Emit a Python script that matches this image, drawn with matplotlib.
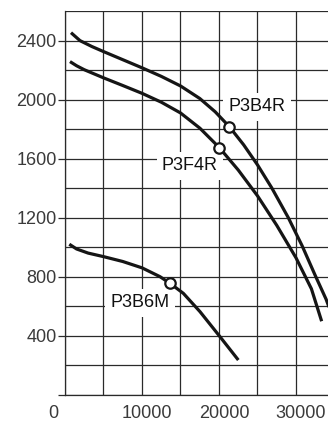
import numpy as np
import matplotlib
matplotlib.use("Agg")
import matplotlib.pyplot as plt
from matplotlib.transforms import ScaledTranslation

plt.rcParams['font.family'] = ['Liberation Sans', 'DejaVu Sans']

# ---- data ----
p3b4r_x = [780, 1950, 3500, 5000, 7500, 10000, 12500, 15000, 17500, 19500, 21340,
           23200, 25000, 26840, 29000, 30800, 32500, 33900, 34400]
p3b4r_y = [2456, 2402, 2362, 2328, 2273, 2218, 2160, 2095, 2010, 1920, 1819,
           1696, 1560, 1405, 1202, 1011, 810, 650, 580]

p3f4r_x = [650, 1500, 2500, 5000, 7500, 10000, 12500, 15000, 17530, 20040, 22500,
           25000, 27500, 30000, 32000, 33330]
p3f4r_y = [2260, 2232, 2205, 2150, 2098, 2045, 1985, 1912, 1808, 1677, 1525,
           1350, 1150, 930, 720, 500]

p3b6m_x = [560, 1500, 3000, 5000, 7500, 10000, 12340, 13640, 15370, 17530, 20130, 22510]
p3b6m_y = [1022, 990, 962, 938, 905, 862, 802, 757, 689, 565, 395, 237]

marker_x = [21340, 20040, 13640]
marker_y = [1819, 1677, 757]

labels = ['P3B4R', 'P3F4R', 'P3B6M']
label_x = [24935, 16230, 9740]
label_y = [1953, 1553, 624]

xticks = [0, 10000, 20000, 30000]
xtick_labels = ['0', '10000', '20000', '30000']
yticks = [0, 400, 800, 1200, 1600, 2000, 2400]
ytick_labels = ['', '400', '800', '1200', '1600', '2000', '2400']

# ---- figure ----
W, H = 328, 421
fig = plt.figure(figsize=(W / 100, H / 100), dpi=100)
ax = fig.add_axes([65 / W, 26 / H, 263 / W, 384 / H])
ax.set_xlim(0, 34156)
ax.set_ylim(0, 2603)

grid_c = '#2a2a2a'
ax.set_xticks(xticks)
ax.set_xticklabels(xtick_labels)
ax.set_yticks(yticks)
ax.set_yticklabels(ytick_labels)
ax.set_xticks(np.arange(0, 35000, 5000), minor=True)
ax.set_yticks(np.arange(0, 2601, 200), minor=True)
ax.grid(True, which='both', color=grid_c, linewidth=0.9, zorder=0)
ax.set_axisbelow(True)

for s in ['top', 'right']:
    ax.spines[s].set_visible(False)
ax.spines['left'].set_color(grid_c)
ax.spines['bottom'].set_color(grid_c)
ax.spines['left'].set_linewidth(0.9)
ax.spines['bottom'].set_linewidth(0.9)

ax.tick_params(axis='y', which='major', length=5, width=0.9, color=grid_c,
               pad=1, labelsize=13, labelcolor='#3a3a3a')
ax.tick_params(axis='x', which='major', length=0, pad=7,
               labelsize=13, labelcolor='#3a3a3a')
ax.tick_params(which='minor', length=0)

for lab in ax.get_xticklabels():
    dx = -12 if lab.get_text() == '0' else 5
    lab.set_transform(lab.get_transform() + ScaledTranslation(dx / 100, 0, fig.dpi_scale_trans))

curve_c = '#151515'
for xs, ys in [(p3b4r_x, p3b4r_y), (p3f4r_x, p3f4r_y), (p3b6m_x, p3b6m_y)]:
    ax.plot(xs, ys, color=curve_c, linewidth=2.3, solid_capstyle='butt',
            solid_joinstyle='round', zorder=4)

ax.plot(marker_x, marker_y, linestyle='none', marker='o', markersize=7.5,
        markerfacecolor='white', markeredgecolor=curve_c, markeredgewidth=1.6, zorder=5)

for t, x, y in zip(labels, label_x, label_y):
    ax.text(x, y, t, ha='center', va='center', fontsize=13, color='#111111',
            zorder=3, bbox=dict(boxstyle='square,pad=0.3', facecolor='white', edgecolor='none'))

fig.savefig('out.png', dpi=100)
